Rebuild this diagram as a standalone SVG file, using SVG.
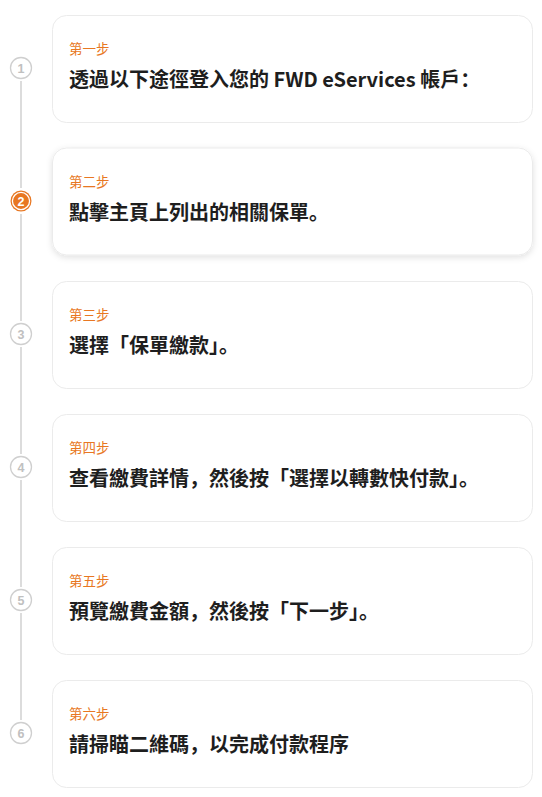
<svg xmlns="http://www.w3.org/2000/svg" width="542" height="797" viewBox="0 0 542 797">
  <style>
    .card{fill:#ffffff;stroke:#ebebeb;stroke-width:1}
    .lbl{font-family:"Noto Sans CJK SC","Noto Sans CJK TC",sans-serif;font-size:13.5px;fill:#E87722}
    .txt{font-family:"Noto Sans CJK SC","Noto Sans CJK TC",sans-serif;font-size:20px;font-weight:700;fill:#1e1e1e}
    .dot{fill:#ffffff;stroke:#cfcfcf;stroke-width:1.3}
    .num{font-family:"Liberation Sans",Arial,sans-serif;font-size:12.5px;font-weight:700;fill:#c0c0c0;text-anchor:middle}
    .conn{stroke:#dcdcdc;stroke-width:2;fill:none}
  </style>
  <defs>
    <filter id="sh" x="-10%" y="-20%" width="120%" height="150%">
      <feDropShadow dx="0" dy="2" stdDeviation="3" flood-color="#000" flood-opacity="0.12"/>
    </filter>
  </defs>
  <rect width="542" height="797" fill="#ffffff"/>
  <g id="connectors">
    <line class="conn" x1="21" y1="81" x2="21" y2="188"/>
    <line class="conn" x1="21" y1="214" x2="21" y2="321"/>
    <line class="conn" x1="21" y1="347" x2="21" y2="454"/>
    <line class="conn" x1="21" y1="480" x2="21" y2="587"/>
    <line class="conn" x1="21" y1="613" x2="21" y2="720"/>
  </g>
  <g id="step1">
    <rect class="card" x="52.5" y="15.5" width="480" height="107" rx="14"/>
    <circle class="dot" cx="21" cy="68" r="10.5"/>
    <text class="num" x="21" y="72.5">1</text>
    <text class="lbl" x="69" y="54">第一步</text>
    <text class="txt" x="69" y="87">透過以下途徑登入您的 FWD eServices 帳戶：</text>
  </g>
  <g id="step2">
    <rect class="card" x="52.5" y="148" width="480" height="107" rx="14" filter="url(#sh)" stroke="#f0f0f0"/>
    <circle cx="21" cy="201" r="10.5" fill="#E87722"/>
    <circle cx="21" cy="201" r="8.6" fill="none" stroke="#ffffff" stroke-width="1.3"/>
    <text class="num" x="21" y="205.5" style="fill:#ffffff">2</text>
    <text class="lbl" x="69" y="187">第二步</text>
    <text class="txt" x="69" y="220">點擊主頁上列出的相關保單。</text>
  </g>
  <g id="step3">
    <rect class="card" x="52.5" y="281.5" width="480" height="107" rx="14"/>
    <circle class="dot" cx="21" cy="334" r="10.5"/>
    <text class="num" x="21" y="338.5">3</text>
    <text class="lbl" x="69" y="320">第三步</text>
    <text class="txt" x="69" y="353">選擇「保單繳款」。</text>
  </g>
  <g id="step4">
    <rect class="card" x="52.5" y="414.5" width="480" height="107" rx="14"/>
    <circle class="dot" cx="21" cy="467" r="10.5"/>
    <text class="num" x="21" y="471.5">4</text>
    <text class="lbl" x="69" y="453">第四步</text>
    <text class="txt" x="69" y="486">查看繳費詳情，然後按「選擇以轉數快付款」。</text>
  </g>
  <g id="step5">
    <rect class="card" x="52.5" y="547.5" width="480" height="107" rx="14"/>
    <circle class="dot" cx="21" cy="600" r="10.5"/>
    <text class="num" x="21" y="604.5">5</text>
    <text class="lbl" x="69" y="586">第五步</text>
    <text class="txt" x="69" y="619">預覽繳費金額，然後按「下一步」。</text>
  </g>
  <g id="step6">
    <rect class="card" x="52.5" y="680.5" width="480" height="107" rx="14"/>
    <circle class="dot" cx="21" cy="733" r="10.5"/>
    <text class="num" x="21" y="737.5">6</text>
    <text class="lbl" x="69" y="719">第六步</text>
    <text class="txt" x="69" y="752">請掃瞄二維碼，以完成付款程序</text>
  </g>
</svg>
